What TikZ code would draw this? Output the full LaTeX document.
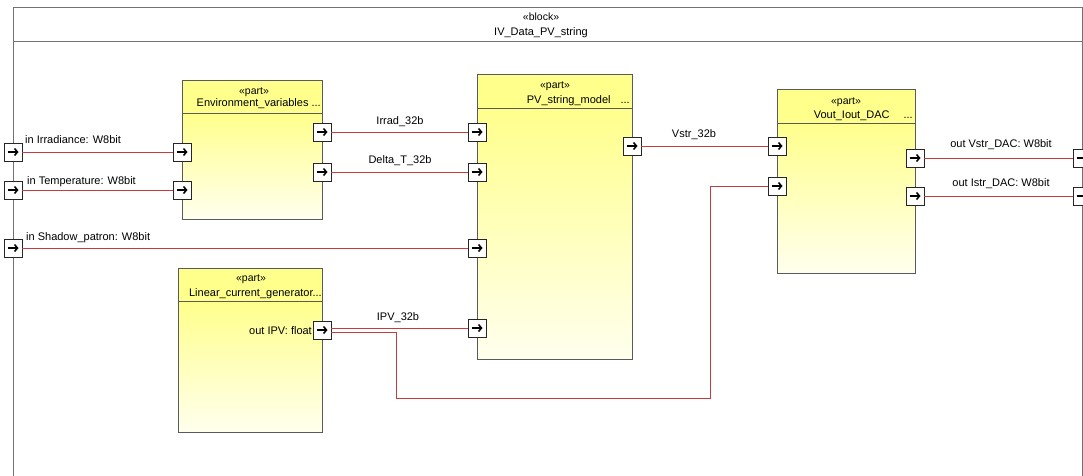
\documentclass[tikz,border=0pt]{standalone}
\usepackage{fontspec}
\setmainfont{Liberation Sans}
\usetikzlibrary{arrows.meta}
\definecolor{partyellow}{RGB}{255,255,140}
\definecolor{partpale}{RGB}{255,255,238}
\definecolor{linkred}{RGB}{196,60,60}
\definecolor{edgegray}{RGB}{90,90,90}
\tikzset{
  port/.style={draw=black!85, fill=white, line width=0.7pt, minimum size=18pt, inner sep=0pt},
  portarrow/.style={draw=black, line width=1.5pt, -{Straight Barb[length=3pt,width=7pt]}},
  conn/.style={draw=linkred, line width=0.9pt},
  lbl/.style={font=\fontsize{11}{13}\selectfont, inner sep=0pt},
  stereo/.style={font=\fontsize{10.5}{12}\selectfont, inner sep=0pt},
  partline/.style={draw=edgegray, line width=1pt},
}
% left, top, right, bottom, header bottom
\newcommand{\partbox}[5]{%
  \shade[top color=partyellow, bottom color=partpale] (#1,#5) rectangle (#3,#4);
  \fill[partyellow] (#1,#2) rectangle (#3,#5);
  \draw[partline] (#1,#2) rectangle (#3,#4);
  \draw[partline] (#1,#5) -- (#3,#5);
}
\begin{document}
\begin{tikzpicture}[x=1pt,y=-1pt]
\useasboundingbox (0,0) rectangle (1083,475);
% outer block
\draw[draw=black!55, line width=1pt] (13,480) -- (13,7) -- (1082,7) -- (1082,480);
\draw[draw=black!55, line width=1pt] (13,41) -- (1082,41);
\node[stereo] (blockst) at (541,17) {«block»};
\node[lbl] (blockname) at (541,33) {IV\_Data\_PV\_string};
% parts
\partbox{182}{80}{322}{219}{113}
\partbox{477}{74}{632}{359}{108}
\partbox{777}{89}{915}{273}{123}
\partbox{178}{268}{322}{432}{301}
\node[stereo] (envst) at (254,92) {«part»};
\node[lbl, anchor=east] (envname) at (321,104) {Environment\_variables ...};
\node[stereo] (pvst) at (555,86) {«part»};
\node[lbl, anchor=east] (pvname) at (630,101) {PV\_string\_model\hspace{10pt}...};
\node[stereo] (voutst) at (846,102) {«part»};
\node[lbl, anchor=east] (voutname) at (913,116) {Vout\_Iout\_DAC\hspace{14pt}...};
\node[stereo] (linst) at (251,279) {«part»};
\node[lbl, anchor=east] (linname) at (322,294) {Linear\_current\_generator...};
% bends of the IPV branch
\coordinate (ipvDrop) at (396,398);
\coordinate (ipvRise) at (710,398);
% ports
\node[port] (inIrr) at (13,152) {}; \node[port] (inTemp) at (13,190) {}; \node[port] (inShadow) at (13,248) {};
\node[port] (envIrrIn) at (182,152) {}; \node[port] (envTempIn) at (182,190) {};
\node[port] (envIrrOut) at (322,132) {}; \node[port] (envDeltaOut) at (322,172) {};
\node[port] (pvIrr) at (477,132) {}; \node[port] (pvDelta) at (477,172) {};
\node[port] (pvShadow) at (477,248) {}; \node[port] (pvIpv) at (477,328) {};
\node[port] (pvVstr) at (632,146) {};
\node[port] (linIpv) at (322,330) {};
\node[port] (voutVstr) at (777,146) {}; \node[port] (voutIpv) at (777,186) {};
\node[port] (voutVout) at (915,158) {}; \node[port] (voutIout) at (915,196) {};
\node[port] (outVstr) at (1082,158) {}; \node[port] (outIstr) at (1082,196) {};
\foreach \p in {inIrr,inTemp,inShadow,envIrrIn,envTempIn,envIrrOut,envDeltaOut,pvIrr,pvDelta,
  pvShadow,pvIpv,pvVstr,linIpv,voutVstr,voutIpv,voutVout,voutIout,outVstr,outIstr}
  \draw[portarrow] ([xshift=-5.5pt]\p.center) -- ([xshift=5.5pt]\p.center);
% connectors
\draw[conn] (inIrr) -- (envIrrIn);
\draw[conn] (inTemp) -- (envTempIn);
\draw[conn] (inShadow) -- (pvShadow);
\draw[conn] (envIrrOut) -- (pvIrr);
\draw[conn] (envDeltaOut) -- (pvDelta);
\draw[conn] (pvVstr) -- (voutVstr);
\draw[conn] (voutVout) -- (outVstr);
\draw[conn] (voutIout) -- (outIstr);
\draw[conn] ([yshift=2pt]linIpv.east) -- (pvIpv.west);
\draw[conn] ([yshift=-2pt]linIpv.east) -| (ipvDrop) -- (ipvRise) |- (voutIpv.west);
% labels
\node[lbl, anchor=west] (inIrrLbl) at (25,140) {in Irradiance: W8bit};
\node[lbl, anchor=west] (inTempLbl) at (27,182) {in Temperature: W8bit};
\node[lbl, anchor=west] (inShadowLbl) at (26,238) {in Shadow\_patron: W8bit};
\node[lbl] (irrLbl) at (400,122) {Irrad\_32b};
\node[lbl] (deltaLbl) at (400,161) {Delta\_T\_32b};
\node[lbl] (vstrLbl) at (694,135) {Vstr\_32b};
\node[lbl] (ipvLbl) at (398,318) {IPV\_32b};
\node[lbl, anchor=east] (linIpvLbl) at (312,331) {out IPV: float};
\node[lbl] (outVstrLbl) at (1001,145) {out Vstr\_DAC: W8bit};
\node[lbl] (outIstrLbl) at (1001,184) {out Istr\_DAC: W8bit};
\end{tikzpicture}
\end{document}
